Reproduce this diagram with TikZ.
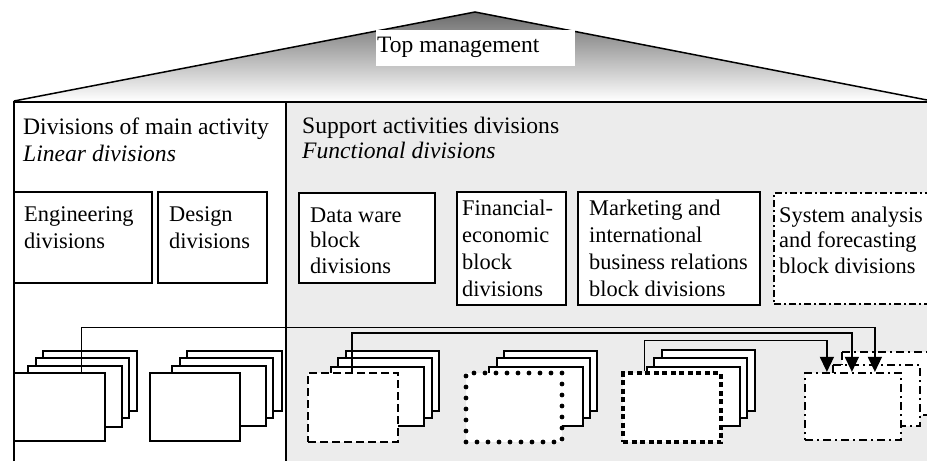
\documentclass[tikz,border=0pt]{standalone}
\usepackage{fontspec}
\setmainfont{Liberation Serif}
\usetikzlibrary{arrows.meta,calc,fit}
\definecolor{panel}{RGB}{236,236,236}
\begin{document}
\begin{tikzpicture}[x=1pt,y=-1pt,
  box/.style={draw, line width=1.4pt, fill=white, inner sep=0pt},
  sheet/.style={draw, line width=1.4pt, fill=white},
  lbl/.style={anchor=base west, inner sep=0pt, align=left, font=\fontsize{22.4}{26.5}\selectfont},
  head/.style={anchor=base west, inner sep=0pt, align=left, font=\fontsize{23.6}{27}\selectfont},
  conn/.style={draw, line width=1.4pt},
  arr/.style={conn, -{Triangle[length=15pt,width=14pt]}},
  dashedline/.style={line width=2.2pt, dash pattern=on 8pt off 4pt},
  rounddots/.style={line width=4.8pt, line cap=round, dash pattern=on 0pt off 11pt},
  squaredots/.style={line width=4.5pt, dash pattern=on 5pt off 3.5pt},
  dashdot/.style={line width=2.2pt, dash pattern=on 8pt off 4pt on 2pt off 4pt},
  dashdotsmall/.style={line width=2.2pt, dash pattern=on 7pt off 3pt on 2pt off 3pt},
]
\useasboundingbox (0,0) rectangle (927,461);
\clip (0,0) rectangle (927,461);
\fill[white] (0,0) rectangle (927,461);
% right panel
\fill[panel] (286,102) rectangle (927,461);
% roof
\shade[top color=black!58, bottom color=white] (14,101) -- (475,12) -- (927,100) -- cycle;
\draw[line width=1.5pt] (14,101) -- (475,12) -- (927,100);
\node[fill=white, inner sep=0pt, fit={(376,30) (575,66)}] (tmbox) {};
\node[anchor=base west, inner sep=0pt, font=\fontsize{23.5}{27}\selectfont] (tm) at (377,52) {Top management};
% frame
\draw[line width=1.3pt] (14,461) -- (14,102);
\draw[line width=2.2pt] (13,102) -- (927,102);
\draw[line width=1.6pt] (286,102) -- (286,461);
% headers (base anchor = baseline of last line)
\node[head] (h1) at (23,161) {Divisions of main activity\\\textit{Linear divisions}};
\node[head] (h2) at (302,158) {Support activities divisions\\[-2pt]\textit{Functional divisions}};
% top boxes
\node[box, fit={(14,192) (152,283)}] (eng) {};
\node[box, fit={(158,192) (267,283)}] (des) {};
\node[box, fit={(299,193) (435,283)}] (dw) {};
\node[box, fit={(457,192) (566,305)}] (fin) {};
\node[box, fit={(578,192) (760,305)}] (mkt) {};
\node[box, dashdotsmall, fit={(774,193) (940,304)}] (sys) {};
\node[lbl] (t1) at (24,248) {Engineering\\divisions};
\node[lbl] (t2) at (169,248) {Design\\divisions};
\node[lbl, font=\fontsize{22.4}{25.5}\selectfont] (t3) at (310,273) {Data ware\\block\\divisions};
\node[lbl, font=\fontsize{22.4}{27}\selectfont] (t4) at (462,296) {Financial-\\economic\\block\\divisions};
\node[lbl, font=\fontsize{22.4}{27}\selectfont] (t5) at (589,296) {Marketing and\\international\\business relations\\block divisions};
\node[lbl, font=\fontsize{22.4}{25.5}\selectfont] (t6) at (779,273) {System analysis\\and forecasting\\block divisions};
% stack back sheets
\draw[sheet] (43,351) rectangle (137,411);
\draw[sheet] (36,358) rectangle (129,418);
\draw[sheet] (28,366) rectangle (122,427);
\draw[sheet] (187,351) rectangle (282,411);
\draw[sheet] (180,358) rectangle (273,418);
\draw[sheet] (172,366) rectangle (266,426);
\draw[sheet] (346,351) rectangle (439,411);
\draw[sheet] (338,358) rectangle (432,418);
\draw[sheet] (331,367) rectangle (424,426);
\draw[sheet] (504,351) rectangle (597,411);
\draw[sheet] (497,358) rectangle (590,418);
\draw[sheet] (489,367) rectangle (583,426);
\draw[sheet] (662,350) rectangle (755,411);
\draw[sheet] (654,358) rectangle (747,418);
\draw[sheet] (647,367) rectangle (740,426);
\draw[sheet, dashdot] (842,352) rectangle (945,415);
\draw[sheet, dashdot] (833,365) rectangle (920,426);
% front sheets
\node[box, fit={(14,373) (105,441)}] (fa) {};
\node[box, fit={(150,373) (240,441)}] (fb) {};
\node[box, dashedline, fit={(308,373) (398,442)}] (fc) {};
\node[box, rounddots, fit={(466,373) (562,442)}] (fd) {};
\node[box, squaredots, fit={(623,373) (721,442)}] (fe) {};
\node[box, dashdot, fit={(805,373) (901,440)}] (ff) {};
% connectors
\draw[arr] ($(fa.north west)+(68,0)$) -- ++(0,-45) -| ($(ff.north west)+(71,0)$);
\draw[arr] ($(fc.north west)+(45,0)$) -- ++(0,-39) -| ($(ff.north west)+(48,0)$);
\draw[arr] ($(fe.north west)+(24,0)$) -- ++(0,-30) -| ($(ff.north west)+(23,0)$);
\end{tikzpicture}
\end{document}
